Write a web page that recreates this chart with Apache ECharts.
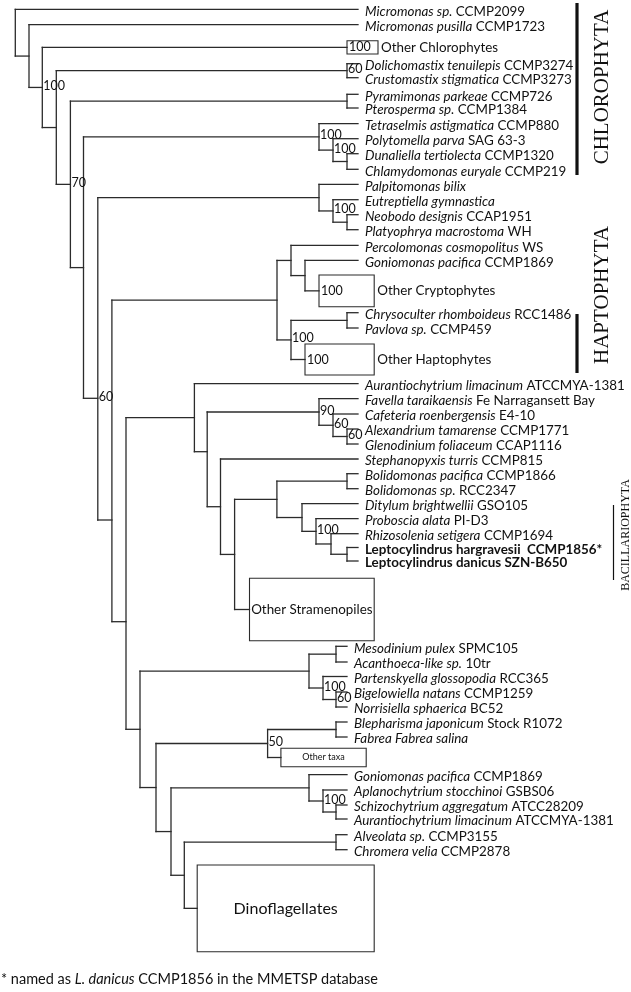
<!DOCTYPE html>
<html><head><meta charset="utf-8">
<script src="https://cdn.jsdelivr.net/npm/echarts@6/dist/echarts.min.js"></script>
<style>html,body{margin:0;padding:0;background:#fff}#c{width:631px;height:992px}</style>
</head><body><div id="c"></div>
<script>
// ---- Leaf taxa (display order) ----
const taxaItalic = [
 'Micromonas sp.','Micromonas pusilla','Dolichomastix tenuilepis','Crustomastix stigmatica',
 'Pyramimonas parkeae','Pterosperma sp.','Tetraselmis astigmatica','Polytomella parva',
 'Dunaliella tertiolecta','Chlamydomonas euryale','Palpitomonas bilix','Eutreptiella gymnastica',
 'Neobodo designis','Platyophrya macrostoma','Percolomonas cosmopolitus','Goniomonas pacifica',
 'Chrysoculter rhomboideus','Pavlova sp.','Aurantiochytrium limacinum','Favella taraikaensis',
 'Cafeteria roenbergensis','Alexandrium tamarense','Glenodinium foliaceum','Stephanopyxis turris',
 'Bolidomonas pacifica','Bolidomonas sp.','Ditylum brightwellii','Proboscia alata',
 'Rhizosolenia setigera','','','Mesodinium pulex','Acanthoeca-like sp.',
 'Partenskyella glossopodia','Bigelowiella natans','Norrisiella sphaerica','Blepharisma japonicum',
 'Fabrea Fabrea salina','Goniomonas pacifica','Aplanochytrium stocchinoi','Schizochytrium aggregatum',
 'Aurantiochytrium limacinum','Alveolata sp.','Chromera velia'
];
const taxaStrain = [
 'CCMP2099','CCMP1723','CCMP3274','CCMP3273','CCMP726','CCMP1384','CCMP880','SAG 63-3',
 'CCMP1320','CCMP219','','','CCAP1951','WH','WS','CCMP1869','RCC1486','CCMP459',
 'ATCCMYA-1381','Fe Narragansett Bay','E4-10','CCMP1771','CCAP1116','CCMP815','CCMP1866',
 'RCC2347','GSO105','PI-D3','CCMP1694','','','SPMC105','10tr','RCC365','CCMP1259','BC52',
 'Stock R1072','','CCMP1869','GSBS06','ATCC28209','ATCCMYA-1381','CCMP3155','CCMP2878'
];
const taxaBold = {29:'Leptocylindrus hargravesii  CCMP1856*', 30:'Leptocylindrus danicus SZN-B650'};
// vertical rank of each taxon
const taxaRank = [
 9.3,24.7,63.7,77.7,94.3,108,123.7,138.7,153.7,169.3,184.3,199.7,214.7,229.7,245.3,260.3,
 312.7,328,383.7,398.7,414,429,444,459,473.7,488.7,503.7,518.7,533.7,547.5,561,
 646.3,662,676.5,692,707,722,737,774.7,790,805,819,834.7,849.7
];
// tip depth of each taxon (upper block / lower block)
const taxaTip = taxaRank.map((r,i)=> i<31 ? 358 : 347);

// ---- Collapsed clades ----
const cladeName    = ['Other Chlorophytes','Other Cryptophytes','Other Haptophytes','Other Stramenopiles','Other taxa','Dinoflagellates'];
const cladeSupport = ['100','100','100','','',''];
const cladeTop     = [40.7,275,344,578.3,748.3,865];
const cladeBottom  = [54,306.7,375,640.7,766.7,951.7];
const cladeStart   = [347,319,305,249.5,280.9,197.2];
const cladeEnd     = [378,374.2,374.2,374.2,366.2,374.2];
const cladeInside  = [false,false,false,true,true,true];

// ---- Internal nodes: id, depth, children, support, rank (null = midpoint) ----
const nodeId       = ['root','n1','n2','n3','d1','n4','p1','n5','t1','t2','t3','n6','a1','a2','a3','n7','x1','c1','c2','h1','h2',
                      'n8','s1','s2','f1','f2','f3','s3','s4','s5','b1','s6','s7','s8','s9',
                      'n9','m1','m2','m3','m4','n10','e1','e2','n11','g1','g2','g3','n12','k1'];
const nodeDepth    = [15.3,29,42.3,56.3,347,70.4,347,83.5,319,333,347,97.8,319,333,347,111.9,277,291,305,291,347,
                      126,194.4,207.2,319,333,347,220.5,234.6,276.9,347,302,316,331,347,
                      140,309,336,323,336,156,267.6,336,171,309,323,336,184.3,336];
const nodeChildren = [
 ['L0','n1'],['L1','n2'],['B0','n3'],['d1','n4'],['L2','L3'],['p1','n5'],['L4','L5'],['t1','n6'],
 ['L6','t2'],['L7','t3'],['L8','L9'],['a1','n7'],['L10','a2'],['L11','a3'],['L12','L13'],
 ['x1','n8'],['c1','h1'],['L14','c2'],['L15','B1'],['h2','B2'],['L16','L17'],
 ['s1','n9'],['L18','s2'],['f1','s3'],['L19','f2'],['L20','f3'],['L21','L22'],['L23','s4'],['s5','B3'],
 ['b1','s6'],['L24','L25'],['L26','s7'],['L27','s8'],['L28','s9'],['L29','L30'],
 ['m1','n10'],['m2','m3'],['L31','L32'],['L33','m4'],['L34','L35'],['e1','n11'],['e2','B4'],['L36','L37'],
 ['g1','n12'],['L38','g2'],['L39','g3'],['L40','L41'],['k1','B5'],['L42','L43']
];
const nodeSupport  = ['','','100','','60','70','','','100','100','','60','','100','','','','','','100','',
                      '','','','90','60','60','','','','','','100','','',
                      '','','','100','60','','50','','','','100','','',''];
const nodeRank     = {n6:398.3, n7:520, n8:621.7, s2:451.7};

// ---- Group annotations ----
const groupName  = ['CHLOROPHYTA','HAPTOPHYTA','BACILLARIOPHYTA'];
const groupFrom  = [3,314,505];
const groupTo    = [175,373,580];
const groupMid   = [87,295,535];
const footnote   = ['* named as ','L. danicus',' CCMP1856 in the MMETSP database'];

// ---- Build geometry in data space ----
const pos = {};
taxaRank.forEach((r,i)=>{ pos['L'+i] = {x: taxaTip[i], y: r}; });
cladeName.forEach((n,i)=>{ pos['B'+i] = {x: cladeStart[i], y: (cladeTop[i]+cladeBottom[i])/2}; });
function place(id){
  if (pos[id]) return pos[id];
  const k = nodeId.indexOf(id);
  const ch = nodeChildren[k].map(place);
  const y = nodeRank[id] != null ? nodeRank[id] : (ch[0].y + ch[ch.length-1].y)/2;
  pos[id] = {x: nodeDepth[k], y: y};
  return pos[id];
}
place('root');
const segs = [];
const supports = [];
nodeId.forEach((id,k)=>{
  const p = pos[id];
  const ch = nodeChildren[k].map(c=>pos[c]);
  segs.push([p.x, ch[0].y, p.x, ch[ch.length-1].y]);
  ch.forEach(c=> segs.push([p.x, c.y, c.x, c.y]));
  if (nodeSupport[k]) supports.push([p.x, p.y, nodeSupport[k]]);
});
const leafData = taxaRank.map((r,i)=>[taxaTip[i], r, i]);
const cladeData = cladeName.map((n,i)=>[cladeStart[i], cladeTop[i], cladeEnd[i], cladeBottom[i], i]);

const INK = '#2b2b2b';
const SANS = 'Lato, "Open Sans", sans-serif';
const SERIF = '"Liberation Serif", "DejaVu Serif", serif';
const FS = 13.4;

const chart = echarts.init(document.getElementById('c'), null, {renderer:'canvas'});
chart.setOption({
  animation:false,
  backgroundColor:'#fff',
  grid:{left:0,right:0,top:0,bottom:0},
  xAxis:{type:'value',min:0,max:631,show:false},
  yAxis:{type:'value',min:0,max:992,inverse:true,show:false},
  series:[
    { type:'custom', data:segs, silent:true,
      renderItem:(params,api)=>{
        const a = api.coord([api.value(0),api.value(1)]);
        const b = api.coord([api.value(2),api.value(3)]);
        return {type:'line', shape:{x1:a[0],y1:a[1],x2:b[0],y2:b[1]},
          style:{stroke:INK,lineWidth:1.3,lineCap:'square'}};
      }},
    { type:'custom', data:cladeData, silent:true,
      renderItem:(params,api)=>{
        const i = api.value(4);
        const a = api.coord([api.value(0),api.value(1)]);
        const b = api.coord([api.value(2),api.value(3)]);
        const kids = [{type:'rect', shape:{x:a[0],y:a[1],width:b[0]-a[0],height:b[1]-a[1]},
          style:{fill:null,stroke:INK,lineWidth:1.1}}];
        const my = (a[1]+b[1])/2;
        if (cladeSupport[i]) kids.push({type:'text', x:a[0]+2, y:my, style:{text:cladeSupport[i],
          font:'12.5px '+SANS, fill:'#111', textAlign:'left', textVerticalAlign:'middle'}});
        if (cladeInside[i]) {
          const fs = i===5 ? 16 : (i===4 ? 9 : 13.4);
          kids.push({type:'text', x:(a[0]+b[0])/2, y:my, style:{text:cladeName[i],
            font:fs+'px '+SANS, fill:'#111', textAlign:'center', textVerticalAlign:'middle'}});
        } else {
          kids.push({type:'text', x:b[0]+3, y:my, style:{text:cladeName[i],
            font:FS+'px '+SANS, fill:'#111', textAlign:'left', textVerticalAlign:'middle'}});
        }
        return {type:'group', children:kids};
      }},
    { type:'custom', data:leafData, silent:true,
      renderItem:(params,api)=>{
        const i = api.value(2);
        const p = api.coord([api.value(0),api.value(1)]);
        let style;
        if (taxaBold[i]) {
          style = {text:taxaBold[i], font:'bold '+FS+'px '+SANS, fill:'#111'};
        } else {
          const t = '{i|'+taxaItalic[i]+'}' + (taxaStrain[i] ? ' '+taxaStrain[i] : '');
          style = {text:t, font:FS+'px '+SANS, fill:'#111',
            rich:{i:{fontStyle:'italic', fontSize:FS, fontFamily:SANS, fill:'#111'}}};
        }
        style.textAlign='left'; style.textVerticalAlign='middle';
        return {type:'text', x:p[0]+7, y:p[1]+2, style:style};
      }},
    { type:'custom', data:supports, silent:true,
      renderItem:(params,api)=>{
        const p = api.coord([api.value(0),api.value(1)]);
        return {type:'text', x:p[0]+1, y:p[1]-1.5, style:{text:api.value(2),
          font:'12.5px '+SANS, fill:'#111', textAlign:'left', textVerticalAlign:'middle'}};
      }},
    { type:'custom', data:groupName.map((n,i)=>[i===2?613.5:577, groupFrom[i], groupTo[i], groupMid[i], i]), silent:true,
      renderItem:(params,api)=>{
        const i = api.value(4);
        const a = api.coord([api.value(0),api.value(1)]);
        const b = api.coord([api.value(0),api.value(2)]);
        const m = api.coord([i===2?626:602, api.value(3)]);
        return {type:'group', children:[
          {type:'line', shape:{x1:a[0],y1:a[1],x2:b[0],y2:b[1]}, style:{stroke:'#111',lineWidth:i===2?1.2:3.2}},
          {type:'text', x:m[0], y:m[1], rotation:Math.PI/2, style:{text:groupName[i],
            font:(i===2?'12px ':'21px ')+SERIF, fill:'#111', textAlign:'center', textVerticalAlign:'middle'}}
        ]};
      }},
    { type:'custom', data:[[0,979]], silent:true,
      renderItem:(params,api)=>{
        const p = api.coord([api.value(0),api.value(1)]);
        return {type:'text', x:p[0]+1, y:p[1], style:{
          text:footnote[0]+'{i|'+footnote[1]+'}'+footnote[2], font:'14.5px '+SANS, fill:'#111',
          textAlign:'left', textVerticalAlign:'middle',
          rich:{i:{fontStyle:'italic',fontSize:14.5,fontFamily:SANS,fill:'#111'}}}};
      }}
  ]
});
</script></body></html>
